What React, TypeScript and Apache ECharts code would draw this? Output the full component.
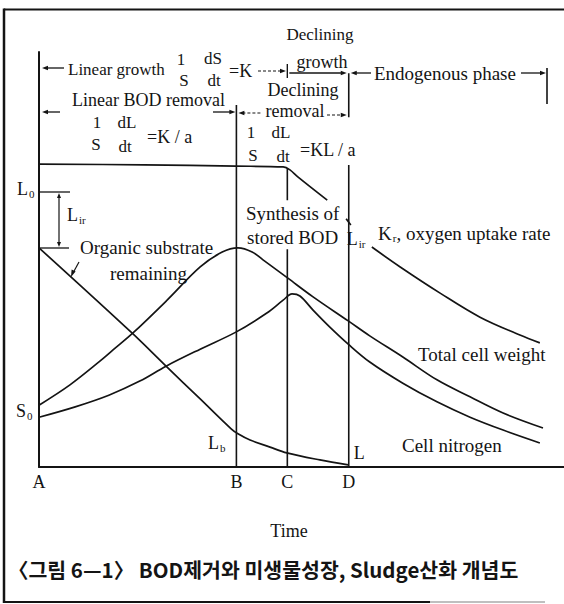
import React, { useEffect, useRef } from 'react';
import * as echarts from 'echarts';

// ---- layout of the plotting area (pixels) ----
const W = 564;
const H = 604;
const GRID_LEFT = 39;
const GRID_TOP = 52;
const GRID_W = 525;
const GRID_H = 415;
const X_MAX = 100;
const Y_MAX = 100;

const INK = '#141414';
const SERIF = '"Liberation Serif", "Times New Roman", serif';
const GOTHIC = '"Noto Sans CJK KR", "Noto Sans", sans-serif';

// ---- phase boundaries on the time axis ----
const phaseNames = ['A', 'B', 'C', 'D'];
const phaseTimes = [0, 37.6, 47.3, 59.0];

// visible pieces of the B, C, D boundary lines: [time, upper value, lower value]
const phaseLineB = [[37.6, 87.2, 0]];
const phaseLineC = [[47.3, 72.0, 64.3], [47.3, 52.5, 0]];
const phaseLineD = [[59.0, 94.9, 84.3], [59.0, 72.8, 0]];

// ---- curves: [time, relative level] ----
// oxygen uptake rate K_r (interrupted where labels sit on it)
const oxygenUptakeA = [
  [0, 73.0], [20, 72.8], [37.5, 72.5], [46.5, 72.3], [47.8, 71.6], [49.3, 69.9], [54.9, 64.3],
];
const oxygenUptakeB = [[58.5, 59.8], [59.4, 58.3]];
const oxygenUptakeC = [
  [63.4, 53.0], [68.8, 48.2], [76.4, 41.9], [84.0, 36.1], [91.6, 31.8], [95.4, 29.9],
];

// organic substrate remaining
const organicSubstrate = [
  [0, 52.8], [17.7, 32.3], [24.2, 24.3], [30.7, 16.4], [36.6, 9.2], [37.9, 8.0],
  [40.2, 6.5], [44.0, 4.8], [47.2, 3.4], [53.5, 1.7], [58.9, 0.5],
];

// total cell weight
const totalCellWeight = [
  [0, 14.9], [5.9, 19.8], [11.6, 25.5], [14.1, 28.2], [17.9, 32.3], [24.4, 40.2],
  [30.7, 48.2], [34.9, 51.8], [37.9, 52.8], [40.6, 51.8], [43.0, 49.6], [47.4, 45.5],
  [52.2, 41.0], [58.9, 35.2], [63.0, 31.6], [69.3, 26.5], [75.8, 21.0], [82.1, 16.9],
  [88.4, 13.0], [96.0, 9.4],
];

// cell nitrogen
const cellNitrogen = [
  [0, 12.0], [6.9, 14.5], [13.3, 17.3], [19.2, 20.7], [24.2, 24.3], [30.7, 28.4],
  [37.5, 32.5], [43.4, 37.1], [46.5, 40.2], [48.2, 41.7], [49.7, 41.2], [52.2, 37.8],
  [55.4, 33.7], [58.9, 29.6], [63.0, 25.3], [69.3, 20.2], [75.8, 15.7], [82.1, 12.0],
  [88.4, 8.9], [95.4, 5.8],
];

const toPx = (t: number) => GRID_LEFT + (t / X_MAX) * GRID_W;

// ---- drawing helpers for the annotation layer ----
const seg = (x1: number, y1: number, x2: number, y2: number, w = 1.3, dash?: number[], color = INK) => ({
  type: 'line',
  silent: true,
  z: 10,
  shape: { x1, y1, x2, y2 },
  style: { stroke: color, lineWidth: w, lineDash: dash },
});

const head = (x: number, y: number, dir: 'left' | 'right' | 'up' | 'down', len = 6, half = 2.3) => {
  let pts: number[][];
  if (dir === 'left') pts = [[x, y], [x + len, y - half], [x + len, y + half]];
  else if (dir === 'right') pts = [[x, y], [x - len, y - half], [x - len, y + half]];
  else if (dir === 'up') pts = [[x, y], [x - half, y + len], [x + half, y + len]];
  else pts = [[x, y], [x - half, y - len], [x + half, y - len]];
  return { type: 'polygon', silent: true, z: 10, shape: { points: pts }, style: { fill: INK } };
};

const label = (
  x: number,
  y: number,
  text: string,
  size = 18,
  align: 'left' | 'center' = 'left',
  extra: Record<string, unknown> = {}
) => ({
  type: 'text',
  silent: true,
  z: 11,
  x,
  y,
  style: {
    text,
    fontSize: size,
    fontFamily: SERIF,
    fill: INK,
    align,
    verticalAlign: 'middle',
    textAlign: align,
    textVerticalAlign: 'middle',
    ...extra,
  },
});

// letter with a subscript, e.g. L0, Lir, Kr
const subLabel = (x: number, y: number, main: string, sub: string, rest = '', size = 18) =>
  label(x, y, `{m|${main}}{s|${sub}}${rest ? `{m|${rest}}` : ''}`, size, 'left', {
    rich: {
      m: { fontSize: size, fontFamily: SERIF, fill: INK, color: INK },
      s: { fontSize: 11, fontFamily: SERIF, fill: INK, color: INK, padding: [9, 0, 0, 1] },
    },
  });

const lineSeries = (name: string, data: number[][], width = 1.7, smooth: number | boolean = 0.35) => ({
  type: 'line',
  name,
  data,
  symbol: 'none',
  showSymbol: false,
  smooth,
  silent: true,
  animation: false,
  z: 3,
  lineStyle: { color: INK, width },
});

const boundarySeries = (name: string, pieces: number[][]) =>
  pieces.map((p, i) =>
    lineSeries(`${name}-${i}`, [[p[0], p[1]], [p[0], p[2]]], 1.6, false)
  );

export default function App() {
  const ref = useRef<HTMLDivElement>(null);

  useEffect(() => {
    if (!ref.current) return;
    const chart = echarts.init(ref.current, undefined, { renderer: 'svg', width: W, height: H });

    const xB = toPx(phaseTimes[1]);
    const xC = toPx(phaseTimes[2]);
    const xD = toPx(phaseTimes[3]);

    const graphic: any[] = [
      // frame
      seg(4, 9.5, 564, 9.5, 2),
      seg(4, 8.5, 4, 603, 2.5),
      seg(4, 602, 430, 602, 2),
      seg(430, 602, 545, 602, 1.5, undefined, '#aaaaaa'),

      // top row: growth phases
      label(320, 34, 'Declining', 17, 'center'),
      label(322, 62, 'growth', 18, 'center'),
      head(42, 68, 'left'),
      seg(46, 68, 64, 68),
      label(68, 69, 'Linear growth', 17),
      label(181, 59, '1', 17, 'center'),
      label(213, 58, 'dS', 17, 'center'),
      label(184, 80, 'S', 17, 'center'),
      label(214, 80, 'dt', 17, 'center'),
      label(229, 71, '=K', 18),
      seg(258, 71, 282, 71, 1.2, [3, 2]),
      head(286, 71, 'right'),
      seg(xC, 64, xC, 78, 1.4),
      seg(xC + 2, 73, xD - 5, 73),
      head(xD - 2, 73, 'right'),
      head(xD + 2, 73, 'left'),
      seg(xD + 6, 73, 371, 73),
      label(374, 73, 'Endogenous phase', 19),
      seg(521, 73, 541, 73),
      head(546, 73, 'right'),
      seg(547, 68, 547, 104, 1.6),

      // second row: BOD removal phases
      head(42, 112, 'left'),
      seg(46, 112, 60, 112),
      label(72, 100, 'Linear BOD removal', 18),
      seg(213, 112, 231, 112),
      head(xB - 1, 112, 'right'),
      head(xB + 2, 113, 'left'),
      seg(xB + 6, 113, 262, 113, 1.2, [3, 2]),
      label(303, 90, 'Declining', 18, 'center'),
      label(295, 111, 'removal', 18, 'center'),
      seg(327, 115, 342, 115, 1.2, [3, 2]),
      head(xD - 2, 115, 'right'),

      // removal rate expressions
      label(97, 122, '1', 17, 'center'),
      label(127, 122, 'dL', 17, 'center'),
      label(96, 144, 'S', 17, 'center'),
      label(125, 146, 'dt', 17, 'center'),
      label(147, 137, '=K / a', 18),
      label(251, 132, '1', 17, 'center'),
      label(281, 132, 'dL', 17, 'center'),
      label(253, 155, 'S', 17, 'center'),
      label(283, 156, 'dt', 17, 'center'),
      label(300, 150, '=KL / a', 18),

      // L0 / Lir markers on the left
      seg(GRID_LEFT, 192, 70, 192),
      seg(GRID_LEFT, 248, 69, 248),
      seg(59, 197, 59, 243, 1.2),
      head(59, 193, 'up', 5, 2),
      head(59, 247, 'down', 5, 2),
      subLabel(17, 189, 'L', '0'),
      subLabel(67, 215, 'L', 'ir'),
      label(80, 247, 'Organic substrate', 19),
      label(110, 273, 'remaining', 19),
      seg(79, 262, 73, 273, 1.2),
      {
        type: 'polygon',
        silent: true,
        z: 10,
        shape: { points: [[71, 277], [71.6, 269.5], [75.6, 271.6]] },
        style: { fill: INK },
      },

      // curve and point labels
      label(246, 213, 'Synthesis of', 19),
      label(247, 237, 'stored BOD', 19),
      subLabel(xD - 2, 239, 'L', 'ir'),
      subLabel(378, 233, 'K', 'r', ', oxygen uptake rate', 19),
      label(418, 354, 'Total cell weight', 19),
      label(402, 445, 'Cell nitrogen', 19),
      label(xD + 5, 453, 'L', 18),
      subLabel(208, 443, 'L', 'b'),
      subLabel(16, 411, 'S', '0'),

      // caption
      {
        type: 'text',
        silent: true,
        z: 11,
        x: 8,
        y: 569,
        style: {
          text: '〈그림 6—1〉 BOD제거와 미생물성장, Sludge산화 개념도',
          fontSize: 20.5,
          fontWeight: 'bold',
          fontFamily: GOTHIC,
          fill: INK,
          align: 'left',
          verticalAlign: 'middle',
          textAlign: 'left',
          textVerticalAlign: 'middle',
        },
      },
    ];

    chart.setOption({
      animation: false,
      backgroundColor: '#ffffff',
      grid: { left: GRID_LEFT, top: GRID_TOP, width: GRID_W, height: GRID_H, containLabel: false },
      xAxis: {
        type: 'value',
        min: 0,
        max: X_MAX,
        axisLine: { show: true, onZero: false, lineStyle: { color: INK, width: 2 } },
        axisTick: { show: false },
        splitLine: { show: false },
        axisLabel: {
          customValues: phaseTimes,
          showMinLabel: true,
          showMaxLabel: true,
          formatter: (v: number) => {
            const i = phaseTimes.indexOf(v);
            return i >= 0 ? phaseNames[i] : '';
          },
          margin: 6,
          fontFamily: SERIF,
          fontSize: 18,
          color: INK,
        },
        name: 'Time',
        nameLocation: 'middle',
        nameGap: 55,
        nameTextStyle: { fontFamily: SERIF, fontSize: 18, color: INK, padding: [0, 25, 0, 0] },
      },
      yAxis: {
        type: 'value',
        min: 0,
        max: Y_MAX,
        axisLine: { show: true, onZero: false, lineStyle: { color: INK, width: 2 } },
        axisTick: { show: false },
        axisLabel: { show: false },
        splitLine: { show: false },
      },
      series: [
        lineSeries('Kr, oxygen uptake rate', oxygenUptakeA),
        lineSeries('Kr, oxygen uptake rate (2)', oxygenUptakeB, 1.7, false),
        lineSeries('Kr, oxygen uptake rate (3)', oxygenUptakeC),
        lineSeries('Organic substrate remaining', organicSubstrate),
        lineSeries('Total cell weight', totalCellWeight),
        lineSeries('Cell nitrogen', cellNitrogen),
        ...boundarySeries('B', phaseLineB),
        ...boundarySeries('C', phaseLineC),
        ...boundarySeries('D', phaseLineD),
      ],
      graphic,
    });

    return () => chart.dispose();
  }, []);

  return (
    <div
      ref={ref}
      style={{ position: 'fixed', left: 0, top: 0, width: W, height: H, background: '#ffffff' }}
    />
  );
}
